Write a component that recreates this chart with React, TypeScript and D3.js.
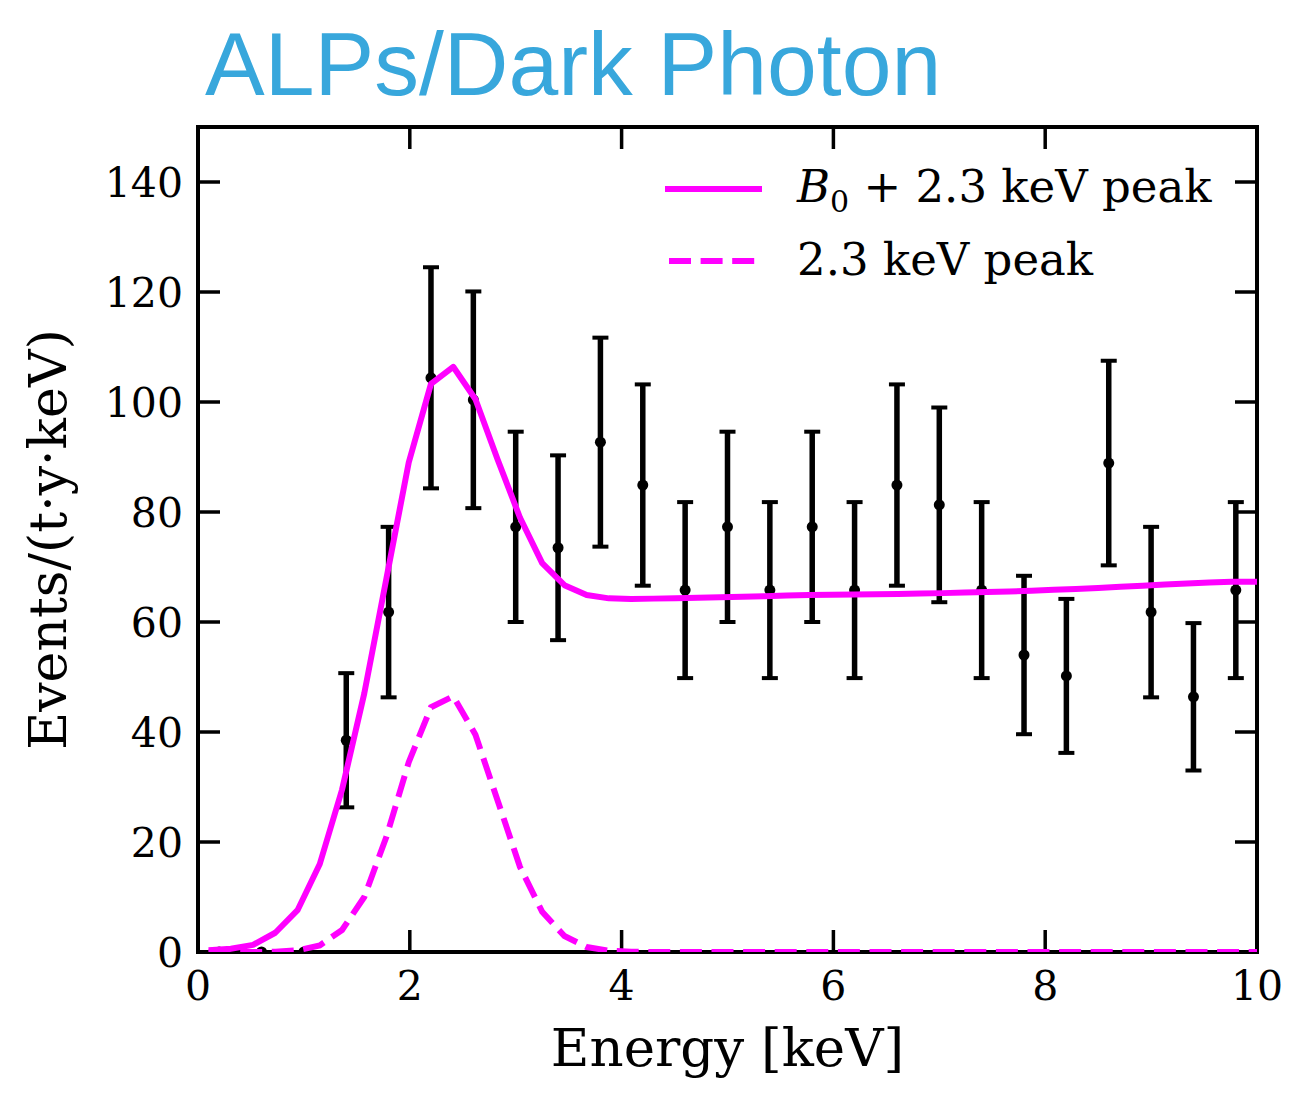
import React from "react";
import * as d3 from "d3";

const title = "ALPs/Dark Photon";
const xTicks = [0, 2, 4, 6, 8, 10];
const yTicks = [0, 20, 40, 60, 80, 100, 120, 140];

const dataE = [0.2, 0.6, 1.0, 1.4, 1.8, 2.2, 2.6, 3.0, 3.4, 3.8, 4.2, 4.6, 5.0, 5.4, 5.8, 6.2, 6.6, 7.0, 7.4, 7.8, 8.2, 8.6, 9.0, 9.4, 9.8];
const dataV = [0, 0, 0, 38.5, 61.8, 104.4, 100.4, 77.3, 73.5, 92.7, 84.9, 65.8, 77.3, 65.8, 77.3, 65.8, 84.9, 81.3, 65.8, 54.0, 50.2, 88.9, 61.8, 46.4, 65.8];
const dataErr = [0, 0, 0, 12.2, 15.5, 20.1, 19.7, 17.3, 16.8, 19.0, 18.3, 16.0, 17.3, 16.0, 17.3, 16.0, 18.3, 17.7, 16.0, 14.4, 14.0, 18.6, 15.5, 13.4, 16.0];

const curveE = [0.10, 0.31, 0.52, 0.73, 0.94, 1.15, 1.36, 1.57, 1.78, 1.99, 2.20, 2.41, 2.62, 2.83, 3.04, 3.25, 3.46, 3.67, 3.88, 4.09, 4.30, 4.51, 4.72, 4.93, 5.14, 5.35, 5.56, 5.77, 5.98, 6.19, 6.40, 6.61, 6.82, 7.03, 7.24, 7.45, 7.66, 7.87, 8.08, 8.29, 8.50, 8.71, 8.92, 9.13, 9.34, 9.55, 9.76, 9.97, 10.18];
const totalV = [0.3, 0.6, 1.3, 3.5, 7.6, 16.0, 29.5, 47.0, 68.0, 89.0, 103.3, 106.4, 100.5, 89.5, 79.0, 70.7, 66.7, 64.9, 64.3, 64.2, 64.25, 64.3, 64.4, 64.5, 64.6, 64.7, 64.8, 64.9, 64.95, 65.0, 65.05, 65.1, 65.2, 65.25, 65.35, 65.45, 65.55, 65.7, 65.85, 66.0, 66.2, 66.4, 66.6, 66.8, 67.0, 67.2, 67.3, 67.3, 67.3];
const peakV = [0, 0, 0, 0.05, 0.3, 1.2, 4.0, 10.0, 21.0, 34.5, 44.5, 46.5, 39.5, 27.5, 15.5, 7.3, 2.9, 0.9, 0.25, 0.05, 0, 0, 0, 0, 0, 0, 0, 0, 0, 0, 0, 0, 0, 0, 0, 0, 0, 0, 0, 0, 0, 0, 0, 0, 0, 0, 0, 0, 0];

const legendLabels = ["2.3 keV peak"];

export default function App() {
  const W = 1307, H = 1096;
  const L = 198, R = 1257, T = 127, B = 952;
  const x = d3.scaleLinear().domain([0, 10]).range([L, R]);
  const y = d3.scaleLinear().domain([0, 150]).range([B, T]);
  const magenta = "#ff00ff";
  const serif = "'DejaVu Serif', serif";

  const line = d3.line<number>().x((_, i) => x(curveE[i])).y((d) => y(d));
  const tickLen = 22;
  const capHalf = 8;

  return (
    <svg width={W} height={H} style={{ position: "absolute", left: 0, top: 0, background: "#fff" }}>
      <defs>
        <clipPath id="plotclip">
          <rect x={L} y={T} width={R - L} height={B - T} />
        </clipPath>
      </defs>
      <rect x={0} y={0} width={W} height={H} fill="#fff" />
      <text x={205} y={95} fontFamily="'Liberation Sans', Arial, sans-serif" fontSize={89.5} fill="#38a7dc">{title}</text>

      {/* frame */}
      <rect x={L} y={T} width={R - L} height={B - T} fill="none" stroke="#000" strokeWidth={4} />

      {/* ticks */}
      {xTicks.map((t) => (
        <g key={"xt" + t}>
          <line x1={x(t)} x2={x(t)} y1={B} y2={B - tickLen} stroke="#000" strokeWidth={3.5} />
          <line x1={x(t)} x2={x(t)} y1={T} y2={T + tickLen} stroke="#000" strokeWidth={3.5} />
          <text x={x(t)} y={1000} textAnchor="middle" fontFamily={serif} fontSize={41}>{t}</text>
        </g>
      ))}
      {yTicks.map((t) => (
        <g key={"yt" + t}>
          <line x1={L} x2={L + tickLen} y1={y(t)} y2={y(t)} stroke="#000" strokeWidth={3.5} />
          <line x1={R} x2={R - tickLen} y1={y(t)} y2={y(t)} stroke="#000" strokeWidth={3.5} />
          <text x={183} y={y(t)} dy="0.36em" textAnchor="end" fontFamily={serif} fontSize={41}>{t}</text>
        </g>
      ))}

      <text x={(L + R) / 2} y={1066} textAnchor="middle" fontFamily={serif} fontSize={53}>Energy [keV]</text>
      <text transform={`translate(66, ${(T + B) / 2}) rotate(-90)`} textAnchor="middle" fontFamily={serif} fontSize={52}>Events/(t·y·keV)</text>

      <g clipPath="url(#plotclip)">
        {dataE.map((e, i) => {
          const v = dataV[i], er = dataErr[i];
          return (
            <g key={"d" + i}>
              {er > 0 && (
                <>
                  <line x1={x(e)} x2={x(e)} y1={y(v - er)} y2={y(v + er)} stroke="#000" strokeWidth={5.5} />
                  <line x1={x(e) - capHalf} x2={x(e) + capHalf} y1={y(v - er)} y2={y(v - er)} stroke="#000" strokeWidth={4} />
                  <line x1={x(e) - capHalf} x2={x(e) + capHalf} y1={y(v + er)} y2={y(v + er)} stroke="#000" strokeWidth={4} />
                </>
              )}
              <circle cx={x(e)} cy={y(v)} r={5.5} fill="#000" />
            </g>
          );
        })}
        <path d={line(totalV) || ""} fill="none" stroke={magenta} strokeWidth={6} strokeLinejoin="round" />
        <path d={line(peakV) || ""} fill="none" stroke={magenta} strokeWidth={6} strokeDasharray="22,9.6" />
      </g>

      {/* legend */}
      <line x1={665} x2={762} y1={189} y2={189} stroke={magenta} strokeWidth={6} />
      <text x={797} y={202} fontFamily={serif} fontSize={45}>
        <tspan fontStyle="italic">B</tspan>
        <tspan fontSize={30} dy={10}>0</tspan>
        <tspan dy={-10}> + 2.3 keV peak</tspan>
      </text>
      <line x1={669} x2={762} y1={261} y2={261} stroke={magenta} strokeWidth={6} strokeDasharray="22,9.6" />
      <text x={797} y={275} fontFamily={serif} fontSize={45}>{legendLabels[0]}</text>
    </svg>
  );
}
